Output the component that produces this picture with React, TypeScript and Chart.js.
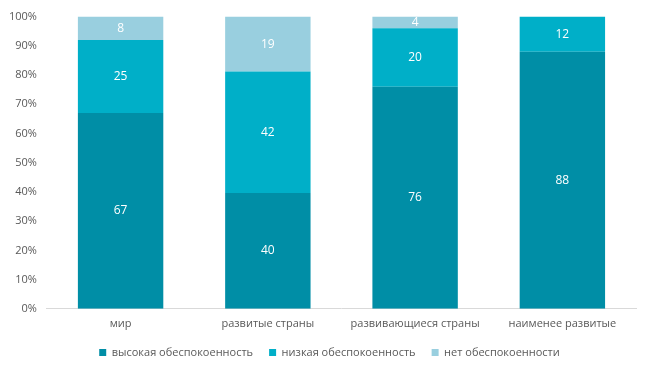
import React, { useEffect, useRef } from "react";
import { Chart, registerables } from "chart.js";

Chart.register(...registerables);

const categories = ["мир", "развитые страны", "развивающиеся страны", "наименее развитые"];
const seriesNames = ["высокая обеспокоенность", "низкая обеспокоенность", "нет обеспокоенности"];
const highConcern = [67, 40, 76, 88];
const lowConcern = [25, 42, 20, 12];
const noConcern = [8, 19, 4, 0];
const colors = ["#008EA6", "#00AFC8", "#99CFDF"];
const yTicks = [0, 10, 20, 30, 40, 50, 60, 70, 80, 90, 100];

const FONT = "'Open Sans', 'Liberation Sans', sans-serif";

export default function App() {
  const ref = useRef<HTMLCanvasElement | null>(null);
  useEffect(() => {
    document.body.style.margin = "0";
    const raw = [highConcern, lowConcern, noConcern];
    const totals = categories.map((_, i) => raw.reduce((s, arr) => s + arr[i], 0));
    const labelPlugin = {
      id: "segLabels",
      afterDatasetsDraw(chart: any) {
        const ctx = chart.ctx;
        ctx.save();
        ctx.fillStyle = "#ffffff";
        ctx.font = `12px ${FONT}`;
        ctx.textAlign = "center";
        ctx.textBaseline = "middle";
        chart.data.datasets.forEach((ds: any, di: number) => {
          const meta = chart.getDatasetMeta(di);
          meta.data.forEach((bar: any, i: number) => {
            const v = raw[di][i];
            if (!v) return;
            const mid = (bar.y + bar.base) / 2;
            ctx.fillText(String(v), bar.x, mid);
          });
        });
        ctx.restore();
      },
    };
    const legendShift = {
      id: "legendShift",
      afterLayout(chart: any) {
        if (chart.legend) {
          chart.legend.left += 12;
          chart.legend.right += 12;
        }
      },
    };
    const chart = new Chart(ref.current!, {
      type: "bar",
      data: {
        labels: categories,
        datasets: raw.map((arr, di) => ({
          label: seriesNames[di],
          data: arr.map((v, i) => (v / totals[i]) * 100),
          backgroundColor: colors[di],
          borderWidth: 0,
          categoryPercentage: 0.58,
          barPercentage: 1,
        })),
      },
      options: {
        animation: false,
        responsive: false,
        layout: { padding: { left: -1, right: 12, top: 7, bottom: 3 } },
        plugins: {
          legend: {
            position: "bottom",
            labels: {
              boxWidth: 7,
              boxHeight: 7,
              color: "#595959",
              font: { family: FONT, size: 11 },
              padding: 16,
            },
          },
          tooltip: { enabled: false },
        },
        scales: {
          x: {
            stacked: true,
            grid: { display: false, drawTicks: false },
            border: { color: "#D9D9D9" },
            ticks: { color: "#595959", font: { family: FONT, size: 11 }, padding: 8 },
            afterFit: (axis: any) => {
              axis.height -= 7;
            },
          },
          y: {
            stacked: true,
            min: 0,
            max: 100,
            afterBuildTicks: (axis: any) => {
              axis.ticks = yTicks.map((v) => ({ value: v }));
            },
            grid: { display: false, drawTicks: false },
            border: { display: false },
            ticks: {
              color: "#595959",
              font: { family: FONT, size: 11 },
              padding: 10,
              callback: (v: any) => v + "%",
            },
          },
        },
      },
      plugins: [labelPlugin, legendShift],
    });
    return () => chart.destroy();
  }, []);
  return <canvas ref={ref} width={648} height={371} style={{ display: "block" }} />;
}
